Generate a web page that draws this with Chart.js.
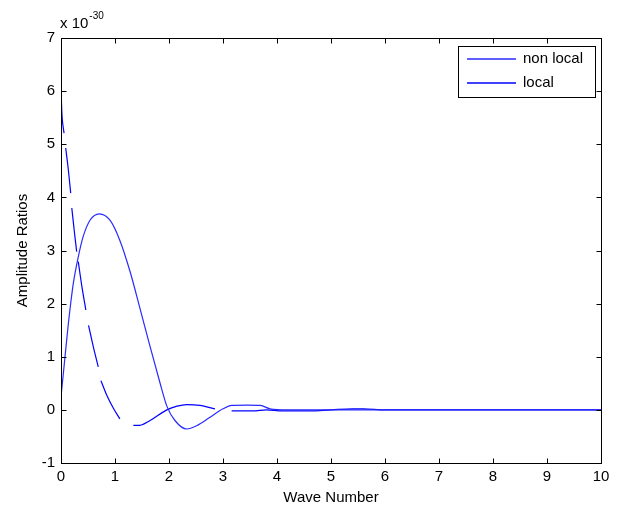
<!DOCTYPE html>
<html>
<head>
<meta charset="utf-8">
<script src="https://cdn.jsdelivr.net/npm/chart.js@4/dist/chart.umd.min.js"></script>
<style>
html,body{margin:0;padding:0;background:#fff;}
#wrap{width:620px;height:506px;}
</style>
</head>
<body>
<div id="wrap"><canvas id="c" width="620" height="506"></canvas></div>
<script>
// ---- data (values in units of 1e-30) ----
const seriesNames = ["non local", "local"];
const seriesColors = ["#2a2aff", "#0000ff"];
const xTicks = [0,1,2,3,4,5,6,7,8,9,10];
const yTicks = [-1,0,1,2,3,4,5,6,7];
const exponentLabel = "-30";

const nonLocalX = [0, 0.043, 0.136, 0.228, 0.32, 0.41, 0.537, 0.71, 0.907, 1.09, 1.28, 1.46, 1.65, 1.83, 1.96, 2.11, 2.33, 2.51, 2.76, 3.0, 3.16, 3.45, 3.69, 3.87, 4.2, 5, 6, 7, 8, 9, 10];
const nonLocalY = [0.25, 0.68, 1.62, 2.38, 2.88, 3.26, 3.57, 3.69, 3.57, 3.19, 2.6, 1.92, 1.19, 0.52, 0.07, -0.2, -0.36, -0.3, -0.14, 0.02, 0.085, 0.09, 0.085, 0.02, 0, 0, 0, 0, 0, 0, 0];

// local curve is drawn in broken pieces (null = gap)
const localX = [0, 0.01, 0.02, 0.056, 0.07,
                0.087, 0.136, 0.18, 0.19,
                0.2, 0.25, 0.29, 0.305,
                0.32, 0.39, 0.46, 0.485,
                0.51, 0.6, 0.69, 0.715,
                0.74, 0.85, 0.97, 1.09, 1.2,
                1.34, 1.46, 1.65, 1.96, 2.15, 2.33, 2.57, 2.85, 3.0,
                3.16, 3.56, 3.8, 4.1, 4.6, 5.0, 5.4, 5.6, 6, 10];
const localY = [6.05, 5.75, 5.52, 5.21, null,
                4.93, 4.52, 4.08, null,
                3.8, 3.33, 2.98, null,
                2.79, 2.3, 1.88, null,
                1.59, 1.18, 0.81, null,
                0.55, 0.27, 0.03, -0.17, null,
                -0.29, -0.29, -0.2, 0, 0.07, 0.1, 0.085, 0.02, null,
                -0.02, -0.02, 0, -0.02, -0.02, 0, 0.02, 0.02, 0, 0];

const toPts = (xs, ys) => xs.map((x, i) => ({x: x, y: ys[i]}));

const FONT = "Liberation Sans, Arial, sans-serif";

const framePlugin = {
  id: 'frame',
  afterDraw(chart) {
    const ctx = chart.ctx, a = chart.chartArea;
    const xs = chart.scales.x, ys = chart.scales.y;
    ctx.save();
    ctx.strokeStyle = '#000';
    ctx.lineWidth = 1;
    const L = Math.round(a.left) + 0.5, R = Math.round(a.right) + 0.5;
    const T = Math.round(a.top) + 0.5, B = Math.round(a.bottom) + 0.5;
    ctx.strokeRect(L, T, R - L, B - T);
    const tl = 5;
    ctx.beginPath();
    xTicks.forEach(v => {
      const px = Math.round(xs.getPixelForValue(v)) + 0.5;
      ctx.moveTo(px, B); ctx.lineTo(px, B - tl);
      ctx.moveTo(px, T); ctx.lineTo(px, T + tl);
    });
    yTicks.forEach(v => {
      const py = Math.round(ys.getPixelForValue(v)) + 0.5;
      ctx.moveTo(L, py); ctx.lineTo(L + tl, py);
      ctx.moveTo(R, py); ctx.lineTo(R - tl, py);
    });
    ctx.stroke();

    // axis titles
    ctx.fillStyle = '#000';
    ctx.font = '15px ' + FONT;
    ctx.textAlign = 'center';
    ctx.textBaseline = 'alphabetic';
    ctx.fillText('Wave Number', (a.left + a.right) / 2, 502);
    ctx.save();
    ctx.translate(27, (a.top + a.bottom) / 2);
    ctx.rotate(-Math.PI / 2);
    ctx.fillText('Amplitude Ratios', 0, 0);
    ctx.restore();

    // exponent label
    ctx.textAlign = 'left';
    ctx.font = '15px ' + FONT;
    ctx.fillText('x 10', 60, 28);
    const w = ctx.measureText('x 10').width;
    ctx.font = '10px ' + FONT;
    ctx.fillText(exponentLabel, 60 + w + 1, 19);

    // legend
    const lx = 458.5, ly = 46.5, lw = 137, lh = 51;
    ctx.fillStyle = '#fff';
    ctx.fillRect(lx, ly, lw, lh);
    ctx.strokeStyle = '#000';
    ctx.lineWidth = 1;
    ctx.strokeRect(lx, ly, lw, lh);
    const rows = [59, 83];
    seriesNames.forEach((name, i) => {
      ctx.beginPath();
      ctx.strokeStyle = seriesColors[i];
      ctx.lineWidth = 1.4;
      ctx.moveTo(467, rows[i]);
      ctx.lineTo(516, rows[i]);
      ctx.stroke();
      ctx.fillStyle = '#000';
      ctx.font = '15px ' + FONT;
      ctx.textAlign = 'left';
      ctx.textBaseline = 'middle';
      ctx.fillText(name, 523, rows[i]);
    });
    ctx.restore();
  }
};

new Chart(document.getElementById('c'), {
  type: 'scatter',
  data: {
    datasets: [
      {
        label: seriesNames[0],
        data: toPts(nonLocalX, nonLocalY),
        showLine: true,
        borderColor: seriesColors[0],
        borderWidth: 1.2,
        pointRadius: 0,
        cubicInterpolationMode: 'monotone',
        spanGaps: false
      },
      {
        label: seriesNames[1],
        data: toPts(localX, localY),
        showLine: true,
        borderColor: seriesColors[1],
        borderWidth: 1.2,
        pointRadius: 0,
        cubicInterpolationMode: 'monotone',
        spanGaps: false
      }
    ]
  },
  options: {
    responsive: false,
    devicePixelRatio: 1,
    animation: false,
    layout: { padding: { top: 38, right: 19, left: 0, bottom: 0 } },
    plugins: { legend: { display: false }, tooltip: { enabled: false } },
    scales: {
      x: {
        type: 'linear', min: 0, max: 10,
        afterBuildTicks: s => { s.ticks = xTicks.map(v => ({value: v})); },
        afterFit: s => { s.height = 43; },
        grid: { display: false, drawTicks: false },
        border: { display: false },
        ticks: { color: '#000', font: { family: FONT, size: 15 }, padding: 5, maxRotation: 0, autoSkip: false }
      },
      y: {
        type: 'linear', min: -1, max: 7,
        afterBuildTicks: s => { s.ticks = yTicks.map(v => ({value: v})); },
        afterFit: s => { s.width = 61; },
        grid: { display: false, drawTicks: false },
        border: { display: false },
        ticks: { color: '#000', font: { family: FONT, size: 15 }, padding: 6, autoSkip: false }
      }
    }
  },
  plugins: [framePlugin]
});
</script>
</body>
</html>
